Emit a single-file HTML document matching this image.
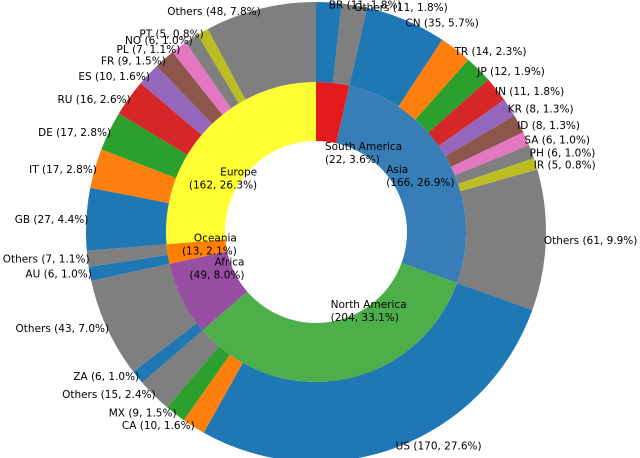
<!DOCTYPE html>
<html><head><meta charset="utf-8"><style>
html,body{margin:0;padding:0;background:#fff;}
svg{display:block;}
text{font-family:"DejaVu Sans","Liberation Sans",sans-serif;font-size:10.5px;fill:#000;}
</style></head><body>
<svg id="chart" width="640" height="458" viewBox="0 0 640 458"></svg>
<script>
const regions = ["South America","Asia","North America","Africa","Oceania","Europe"];
const regionValues = [22,166,204,49,13,162];
const regionColors = ["#e41a1c","#377eb8","#4daf4a","#984ea3","#ff7f00","#ffff33"];
const countryNames = [
 ["BR","Others"],
 ["CN","TR","JP","IN","KR","ID","SA","PH","IR","Others"],
 ["US","CA","MX","Others"],
 ["ZA","Others"],
 ["AU","Others"],
 ["GB","IT","DE","RU","ES","FR","PL","NO","PT","Others"]
];
const countryValues = [
 [11,11],
 [35,14,12,11,8,8,6,6,5,61],
 [170,10,9,15],
 [6,43],
 [6,7],
 [27,17,17,16,10,9,7,6,5,48]
];
const tab10 = ["#1f77b4","#ff7f0e","#2ca02c","#d62728","#9467bd","#8c564b","#e377c2","#7f7f7f","#bcbd22","#17becf"];
const CX=316, CY=232, R0=91, R1=150, R2=230;
const svg=document.getElementById('chart');
const NS="http://www.w3.org/2000/svg";
const total=regionValues.reduce((a,b)=>a+b,0);
function ang(v){return v/total*2*Math.PI;}
function pt(r,a){return [CX+r*Math.sin(a), CY-r*Math.cos(a)];}
function arcPath(ri,ro,a0,a1){
  const large=(a1-a0)>Math.PI?1:0;
  const p0=pt(ro,a0),p1=pt(ro,a1),p2=pt(ri,a1),p3=pt(ri,a0);
  return `M${p0[0]},${p0[1]}A${ro},${ro} 0 ${large} 1 ${p1[0]},${p1[1]}L${p2[0]},${p2[1]}A${ri},${ri} 0 ${large} 0 ${p3[0]},${p3[1]}Z`;
}
function pct(v){return (v/total*100).toFixed(1)+'%';}
function addLabel(lines,r,a,name,extraDy){
  const p=pt(r,a);
  const t=document.createElementNS(NS,'text');
  
  
  const s=Math.sin(a);
  t.setAttribute('text-anchor', s>=-0.02 ? 'start':'end');
  const lh=13, n=lines.length;
  lines.forEach((ln,i)=>{
    const ts=document.createElementNS(NS,'tspan');
    ts.setAttribute('x',p[0]);
    ts.setAttribute('y',p[1]+(i-(n-1)/2)*lh+4+(extraDy||0));
    ts.textContent=ln;
    t.appendChild(ts);
  });
  svg.appendChild(t);
}
let cum=0;
const outerLabels=[];
regions.forEach((rg,i)=>{
  const a0=ang(cum), a1=ang(cum+regionValues[i]);
  const p=document.createElementNS(NS,'path');
  p.setAttribute('d',arcPath(R0,R1,a0,a1));
  p.setAttribute('fill',regionColors[i]);
  
  
  svg.appendChild(p);
  let c2=cum;
  countryNames[i].forEach((cn,j)=>{
    const v=countryValues[i][j];
    const b0=ang(c2), b1=ang(c2+v);
    const q=document.createElementNS(NS,'path');
    q.setAttribute('d',arcPath(R1,R2,b0,b1));
    q.setAttribute('fill',cn==="Others"?"#7f7f7f":tab10[j%10]);
    
    
    svg.appendChild(q);
    outerLabels.push([cn+' ('+v+', '+pct(v)+')',(b0+b1)/2,'label-'+cn.toLowerCase()]);
    c2+=v;
  });
  cum+=regionValues[i];
});
cum=0;
regions.forEach((rg,i)=>{
  const a=ang(cum+regionValues[i]/2);
  addLabel([rg,'('+regionValues[i]+', '+pct(regionValues[i])+')'],80,a,'label-'+rg.toLowerCase().replace(/ /g,'-'), rg==="Asia"?-18:0);
  cum+=regionValues[i];
});
outerLabels.forEach(l=>addLabel([l[0]],228,l[1],l[2]));
</script>
</body></html>
